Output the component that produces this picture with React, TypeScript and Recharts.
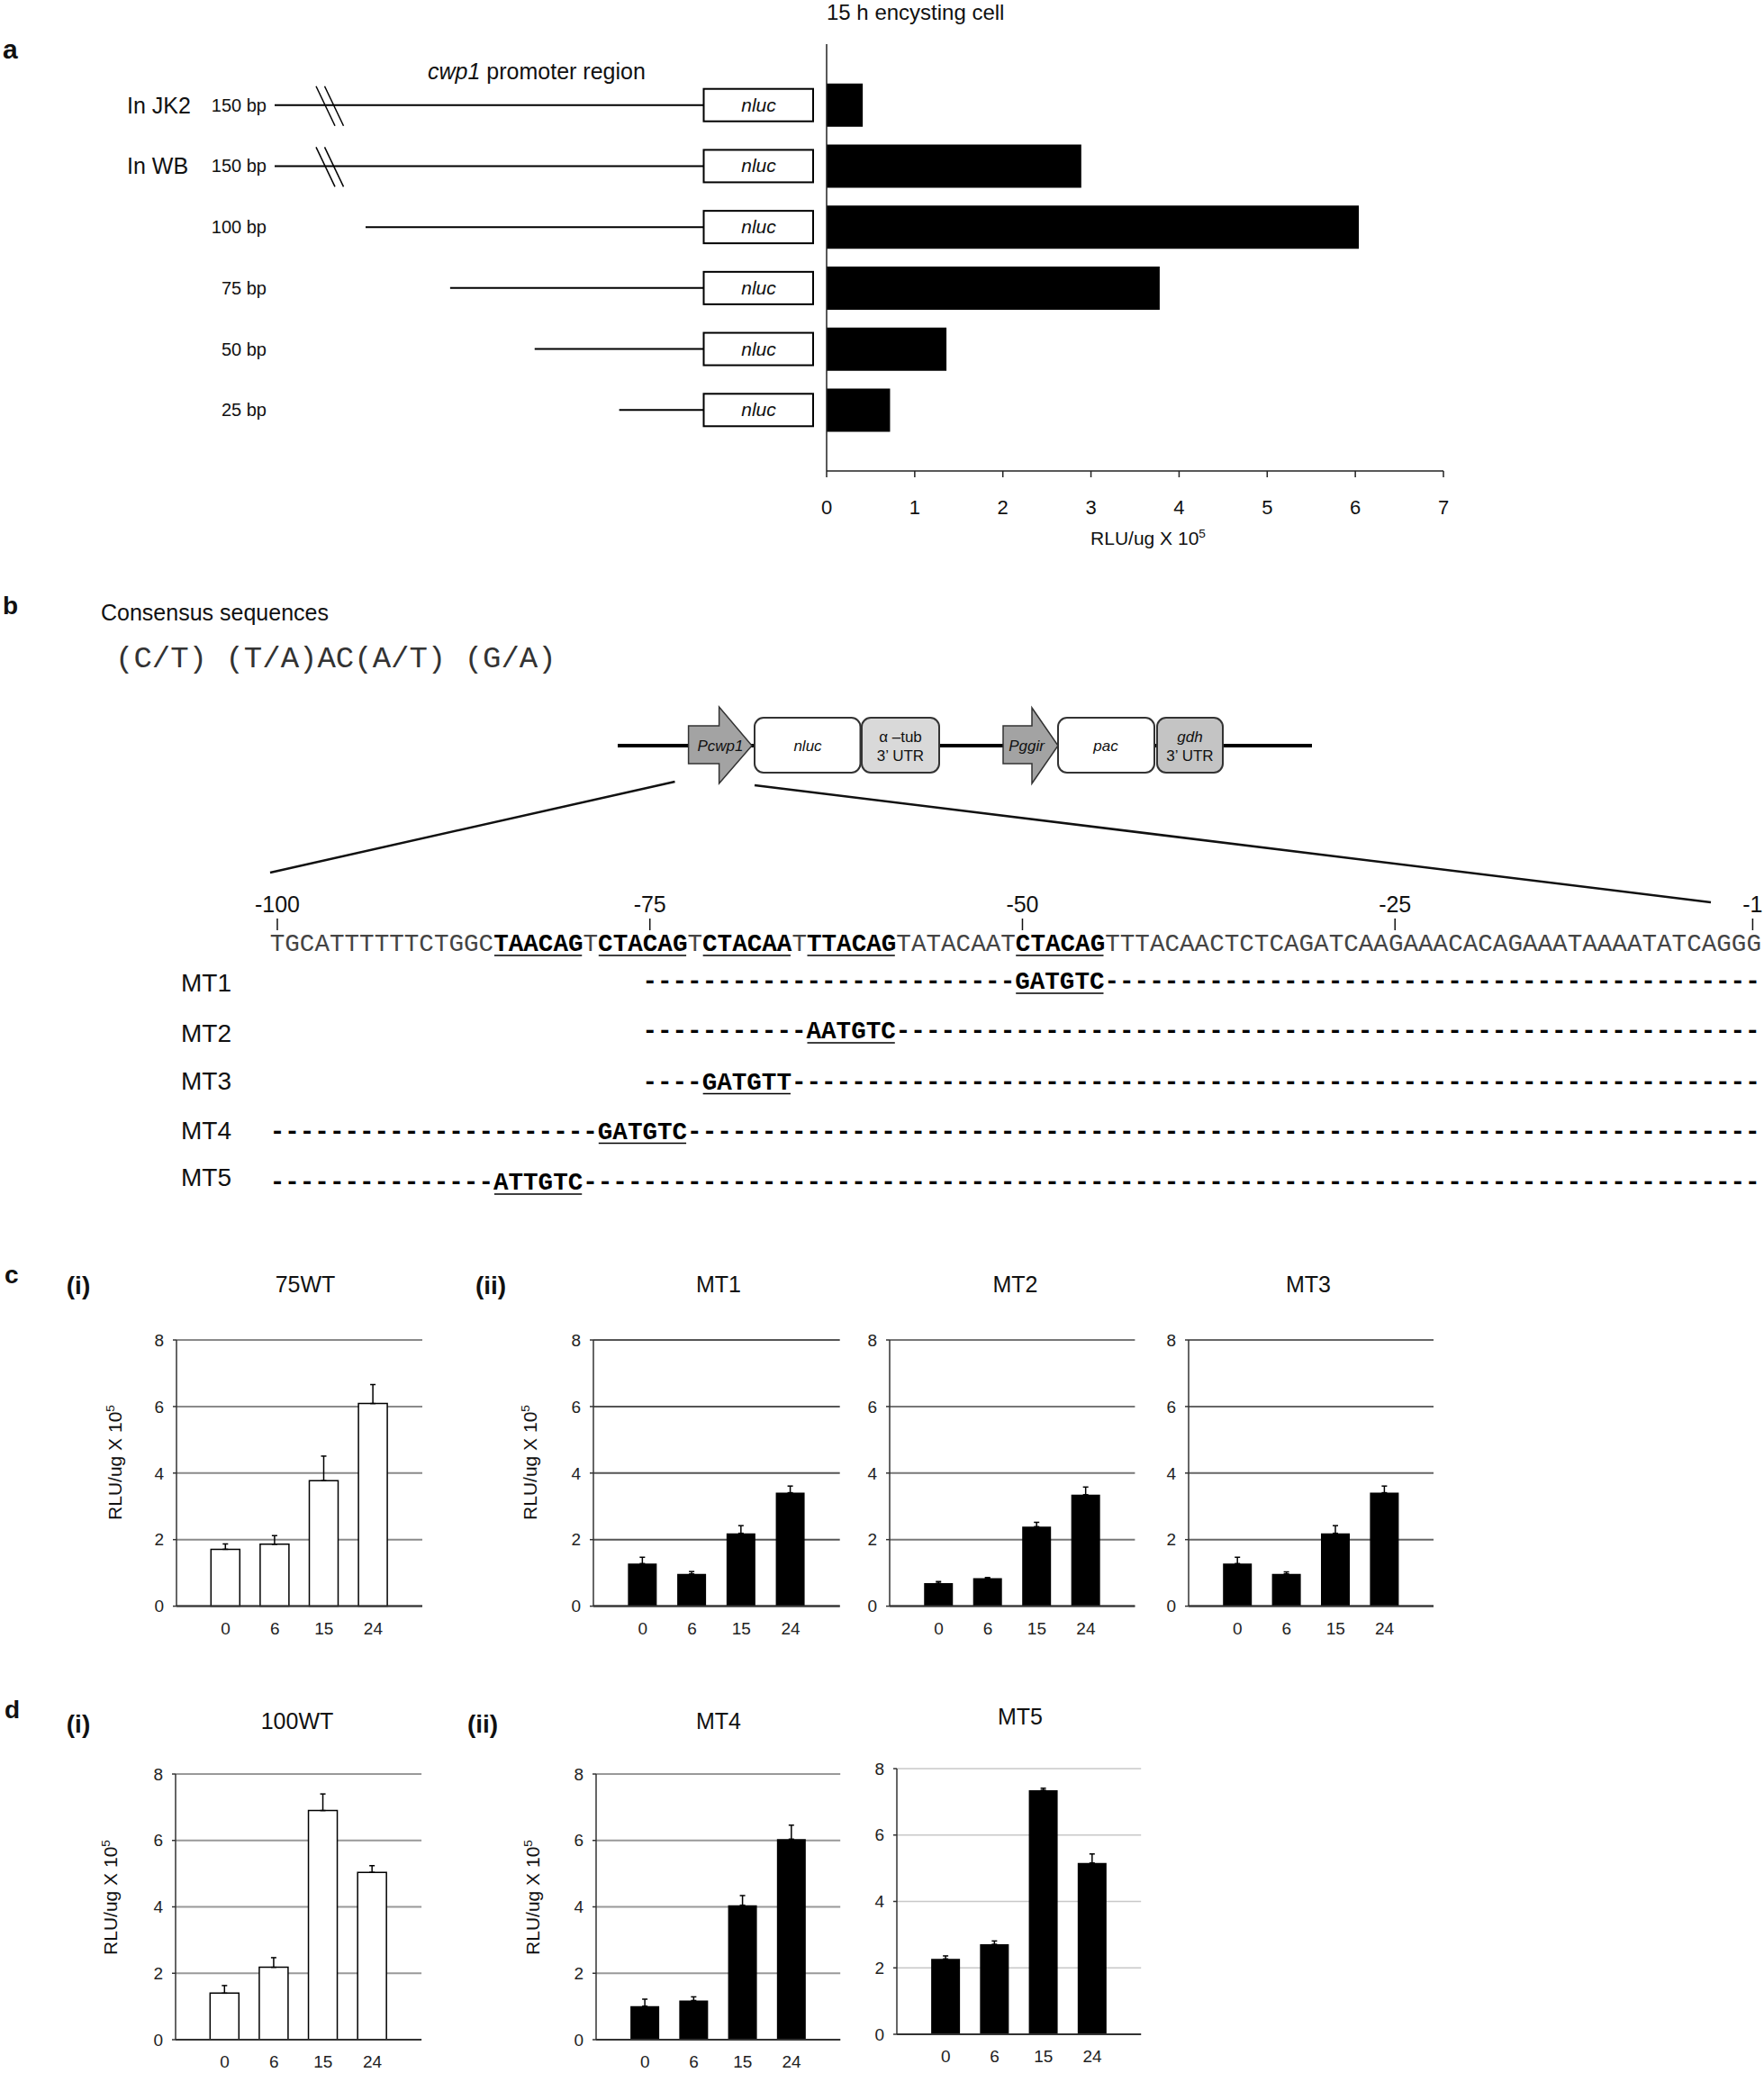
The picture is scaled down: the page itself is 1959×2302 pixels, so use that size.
import React from "react";
import { BarChart, Bar, XAxis, YAxis, CartesianGrid, ErrorBar } from "recharts";

const SANS = "'Liberation Sans', Arial, sans-serif";
const MONO = "'Liberation Mono', 'Courier New', monospace";

// ---- panel a: promoter deletion constructs, 15 h encysting cells ----
const constructNames = ["JK2-150", "WB-150", "100", "75", "50", "25"];
const hostStrains = ["In JK2", "In WB", "", "", "", ""];
const promoterLengths = [150, 150, 100, 75, 50, 25];
const rlu15h = [0.41, 2.89, 6.04, 3.78, 1.36, 0.72];
const rluTicks = [0, 1, 2, 3, 4, 5, 6, 7];

// ---- panel b: promoter sequence and mutants ----
const promoterSeq =
  "TGCATTTTTTCTGGCTAACAGTCTACAGTCTACAATTTACAGTATACAATCTACAGTTTACAACTCTCAGATCAAGAAACACAGAAATAAAATATCAGGG";
const motifStarts = [15, 22, 29, 36, 50];
const positionMarks = [-100, -75, -50, -25, -1];
const mutantNames = ["MT1", "MT2", "MT3", "MT4", "MT5"];
const mutantFrom = [25, 25, 25, 0, 0];
const mutantSites = [50, 36, 29, 22, 15];
const mutantSeqs = ["GATGTC", "AATGTC", "GATGTT", "GATGTC", "ATTGTC"];

// ---- panels c, d: time course (h) ----
const hours = ["0", "6", "15", "24"];
const rluAxisTicks = [0, 2, 4, 6, 8];
const wt75 = [1.71, 1.86, 3.77, 6.09];
const wt75Err = [0.16, 0.26, 0.74, 0.57];
const mt1 = [1.28, 0.97, 2.19, 3.41];
const mt1Err = [0.19, 0.07, 0.23, 0.2];
const mt2 = [0.69, 0.84, 2.39, 3.35];
const mt2Err = [0.05, 0.02, 0.13, 0.23];
const mt3 = [1.28, 0.97, 2.19, 3.41];
const mt3Err = [0.19, 0.06, 0.23, 0.2];
const wt100 = [1.4, 2.18, 6.9, 5.04];
const wt100Err = [0.23, 0.29, 0.5, 0.2];
const mt4 = [1.01, 1.18, 4.05, 6.04];
const mt4Err = [0.21, 0.11, 0.29, 0.42];
const mt5 = [2.27, 2.71, 7.35, 5.16];
const mt5Err = [0.09, 0.1, 0.06, 0.27];

// construct diagram drawn as the y-axis tick of panel a
const BOX_X = 781.5;
const PX_PER_BP = 3.755;

function ConstructTick(props: any) {
  const { y, payload } = props;
  const i = constructNames.indexOf(payload.value);
  const bp = promoterLengths[i];
  const broken = bp > 100;
  const startX = broken ? 305 : BOX_X - bp * PX_PER_BP;
  return (
    <g fontFamily={SANS}>
      {hostStrains[i] && (
        <text x={141} y={y + 9} fontSize={25} fill="#111">
          {hostStrains[i]}
        </text>
      )}
      <text x={296} y={y + 7} fontSize={20} textAnchor="end" fill="#111">
        {bp} bp
      </text>
      <line x1={startX} x2={BOX_X} y1={y} y2={y} stroke="#000" strokeWidth={2} />
      {broken && (
        <g stroke="#000" strokeWidth={1.5}>
          <line x1={351} y1={y - 21} x2={372} y2={y + 23} />
          <line x1={360.5} y1={y - 21} x2={381.5} y2={y + 23} />
        </g>
      )}
      <rect x={BOX_X} y={y - 18} width={121.5} height={36} fill="#fff" stroke="#000" strokeWidth={2} />
      <text x={BOX_X + 61} y={y + 7} fontSize={21} fontStyle="italic" textAnchor="middle" fill="#111">
        nluc
      </text>
    </g>
  );
}

function PanelA() {
  const data = constructNames.map((name, i) => ({ name, v: rlu15h[i] }));
  return (
    <div style={{ position: "absolute", left: 0, top: 0 }}>
      <BarChart
        layout="vertical"
        width={1650}
        height={620}
        data={data}
        margin={{ top: 49, right: 47, left: 0, bottom: 0 }}
      >
        <XAxis
          type="number"
          domain={[0, 7]}
          ticks={rluTicks}
          interval={0}
          height={97}
          tickSize={7}
          tickMargin={25}
          axisLine={{ stroke: "#222", strokeWidth: 1.5 }}
          tickLine={{ stroke: "#222", strokeWidth: 1.5 }}
          tick={{ fontSize: 22, fill: "#111", fontFamily: SANS }}
        />
        <YAxis
          type="category"
          dataKey="name"
          width={918}
          interval={0}
          padding={{ top: 33.85, bottom: 33.85 }}
          tickLine={false}
          axisLine={{ stroke: "#222", strokeWidth: 1.5 }}
          tick={<ConstructTick />}
        />
        <Bar dataKey="v" fill="#000" barSize={48} isAnimationActive={false} />
      </BarChart>
    </div>
  );
}

interface TimeProps {
  values: number[];
  errors: number[];
  left: number;
  top: number;
  width: number;
  height: number;
  fill: string;
  grid: string;
  gridWidth?: number;
}

function TimeCourse({ values, errors, left, top, width, height, fill, grid, gridWidth = 2 }: TimeProps) {
  const data = hours.map((h, i) => ({ h, v: values[i], e: [0, errors[i]] }));
  const ml = 50;
  const mt = 12;
  const mr = 12;
  const xh = 40;
  const hollow = fill === "#fff";
  return (
    <div style={{ position: "absolute", left: left - ml, top: top - mt }}>
      <BarChart
        width={width + ml + mr}
        height={height + mt + xh}
        data={data}
        margin={{ top: mt, right: mr, left: 0, bottom: 0 }}
      >
        <CartesianGrid vertical={false} stroke={grid} strokeWidth={gridWidth} />
        <XAxis
          dataKey="h"
          height={xh}
          interval={0}
          padding={{ left: width / 10, right: width / 10 }}
          tickLine={false}
          tickSize={0}
          tickMargin={18}
          axisLine={{ stroke: "#333", strokeWidth: 2 }}
          tick={{ fontSize: 19, fill: "#222", fontFamily: SANS }}
        />
        <YAxis
          width={ml}
          domain={[0, 8]}
          ticks={rluAxisTicks}
          interval={0}
          tickSize={4}
          tickMargin={10}
          axisLine={{ stroke: "#333", strokeWidth: 1.5 }}
          tickLine={{ stroke: "#333", strokeWidth: 1.5 }}
          tick={{ fontSize: 19, fill: "#222", fontFamily: SANS }}
        />
        <Bar
          dataKey="v"
          fill={fill}
          stroke={hollow ? "#000" : "none"}
          strokeWidth={hollow ? 1.5 : 0}
          barSize={32}
          isAnimationActive={false}
        >
          <ErrorBar dataKey="e" width={3} stroke="#000" strokeWidth={1.5} isAnimationActive={false} />
        </Bar>
      </BarChart>
    </div>
  );
}

function RluLabel({ x, y, size, rotate }: { x: number; y: number; size: number; rotate?: boolean }) {
  const t = rotate ? `translate(${x + 7},${y}) rotate(-90)` : `translate(${x},${y})`;
  return (
    <text transform={t} x={0} y={0} textAnchor="middle" fontSize={size} fill="#111" fontFamily={SANS}>
      RLU/ug X 10
      <tspan dy={-size * 0.4} fontSize={size * 0.65}>
        5
      </tspan>
    </text>
  );
}

// panel b geometry: one character cell of the sequence
const SEQ_X = 299.7;
const CHAR_W = 16.55;
const SEQ_FONT = CHAR_W / 0.6;
const cellX = (i: number) => SEQ_X + i * CHAR_W;

function SequencePanel() {
  const rowBase = [1098, 1153, 1209.5, 1264.5, 1321];
  const labelBase = [1101, 1156.5, 1210, 1265, 1316.7];
  return (
    <g>
      {positionMarks.map((p) => {
        const cx = cellX(p + 100) + CHAR_W / 2;
        return (
          <g key={p}>
            <text x={cx} y={1013} fontSize={25} textAnchor="middle" fontFamily={SANS} fill="#111">
              {p}
            </text>
            <line x1={cx} x2={cx} y1={1020} y2={1033} stroke="#111" strokeWidth={1.5} />
          </g>
        );
      })}
      <text x={SEQ_X} y={1056} fontSize={SEQ_FONT} fontFamily={MONO} fill="#444">
        {promoterSeq.split("").map((ch, i) => {
          const bold = motifStarts.some((s) => i >= s && i < s + 6);
          return (
            <tspan key={i} fontWeight={bold ? "bold" : "normal"} fill={bold ? "#000" : "#444"}>
              {ch}
            </tspan>
          );
        })}
      </text>
      {motifStarts.map((s) => (
        <line key={s} x1={cellX(s) + 1} x2={cellX(s + 6) - 1} y1={1061} y2={1061} stroke="#000" strokeWidth={1.5} />
      ))}
      {mutantNames.map((name, r) => {
        const from = mutantFrom[r];
        const site = mutantSites[r];
        const pre = "-".repeat(site - from);
        const post = "-".repeat(promoterSeq.length - site - 6);
        return (
          <g key={name}>
            <text x={201} y={labelBase[r]} fontSize={28} fontFamily={SANS} fill="#111">
              {name}
            </text>
            <text x={cellX(from)} y={rowBase[r]} fontSize={SEQ_FONT} fontFamily={MONO} fontWeight="bold" fill="#000">
              {pre}
              {mutantSeqs[r]}
              {post}
            </text>
            <line
              x1={cellX(site) + 1}
              x2={cellX(site + 6) - 1}
              y1={rowBase[r] + 5}
              y2={rowBase[r] + 5}
              stroke="#000"
              strokeWidth={1.5}
            />
          </g>
        );
      })}
    </g>
  );
}

function PlasmidMap() {
  const y = 828;
  return (
    <g fontFamily={SANS} fill="#111">
      <line x1={686} x2={1457} y1={y} y2={y} stroke="#000" strokeWidth={4} />
      <polygon
        points="764.6,806 798.6,806 798.6,785 835,828 798.6,870 798.6,848 764.6,848"
        fill="#a3a3a3"
        stroke="#333"
        strokeWidth={1.5}
      />
      <rect x={838} y={797} width={117.5} height={61} rx={10} fill="#fff" stroke="#333" strokeWidth={2} />
      <rect x={957} y={797} width={86} height={61} rx={10} fill="#d9d9d9" stroke="#333" strokeWidth={2} />
      <polygon
        points="1114,806 1146,806 1146,786 1175,828 1146,870 1146,848 1114,848"
        fill="#a3a3a3"
        stroke="#333"
        strokeWidth={1.5}
      />
      <rect x={1175} y={797} width={107} height={61} rx={10} fill="#fff" stroke="#333" strokeWidth={2} />
      <rect x={1285} y={797} width={73} height={61} rx={10} fill="#c4c4c4" stroke="#333" strokeWidth={2} />
      <text x={800} y={834} fontSize={17} fontStyle="italic" textAnchor="middle">Pcwp1</text>
      <text x={897} y={834} fontSize={17} fontStyle="italic" textAnchor="middle">nluc</text>
      <text x={1000} y={824} fontSize={17} textAnchor="middle">α –tub</text>
      <text x={1000} y={845} fontSize={17} textAnchor="middle">3’ UTR</text>
      <text x={1140} y={834} fontSize={17} fontStyle="italic" textAnchor="middle">Pggir</text>
      <text x={1228} y={834} fontSize={17} fontStyle="italic" textAnchor="middle">pac</text>
      <text x={1321.5} y={824} fontSize={17} fontStyle="italic" textAnchor="middle">gdh</text>
      <text x={1321.5} y={845} fontSize={17} textAnchor="middle">3’ UTR</text>
      <line x1={749.5} y1={868} x2={300} y2={969} stroke="#111" strokeWidth={2.5} />
      <line x1={838} y1={872} x2={1900} y2={1002} stroke="#111" strokeWidth={2.5} />
    </g>
  );
}

export default function App() {
  const bold = { fontFamily: SANS, fontWeight: "bold" as const, fill: "#111" };
  const plain = { fontFamily: SANS, fill: "#111" };
  return (
    <div style={{ position: "relative", width: 1959, height: 2302, background: "#fff", overflow: "hidden" }}>
      <style>{"body{margin:0}"}</style>
      <PanelA />
      <TimeCourse values={wt75} errors={wt75Err} left={196} top={1487.7} width={273} height={295.6} fill="#fff" grid="#8a8a8a" />
      <TimeCourse values={mt1} errors={mt1Err} left={659} top={1487.7} width={273.7} height={295.6} fill="#000" grid="#555" />
      <TimeCourse values={mt2} errors={mt2Err} left={988.3} top={1487.7} width={272.4} height={295.6} fill="#000" grid="#777" />
      <TimeCourse values={mt3} errors={mt3Err} left={1320} top={1487.7} width={272} height={295.6} fill="#000" grid="#666" />
      <TimeCourse values={wt100} errors={wt100Err} left={194.6} top={1970} width={273.1} height={295} fill="#fff" grid="#999" />
      <TimeCourse values={mt4} errors={mt4Err} left={661.6} top={1970} width={271.2} height={295} fill="#000" grid="#999" />
      <TimeCourse values={mt5} errors={mt5Err} left={996} top={1964.3} width={271.2} height={295} fill="#000" grid="#c8c8c8" gridWidth={1.5} />
      <svg width={1959} height={2302} style={{ position: "absolute", left: 0, top: 0, pointerEvents: "none" }}>
        {/* panel a */}
        <text x={3} y={65} fontSize={30} {...bold}>a</text>
        <text x={918} y={22} fontSize={24} {...plain}>15 h encysting cell</text>
        <text x={475} y={88} fontSize={25} {...plain}>
          <tspan fontStyle="italic">cwp1</tspan> promoter region
        </text>
        <RluLabel x={1275} y={605} size={21} />

        {/* panel b */}
        <text x={3} y={682} fontSize={28} {...bold}>b</text>
        <text x={112} y={689} fontSize={25} {...plain}>Consensus sequences</text>
        <text x={128} y={741} fontSize={34} fontFamily={MONO} fill="#333">(C/T) (T/A)AC(A/T) (G/A)</text>
        <PlasmidMap />
        <SequencePanel />

        {/* panel c */}
        <text x={5} y={1425} fontSize={28} {...bold}>c</text>
        <text x={87} y={1437} fontSize={28} textAnchor="middle" {...bold}>(i)</text>
        <text x={339} y={1435} fontSize={25} textAnchor="middle" {...plain}>75WT</text>
        <text x={545} y={1437} fontSize={28} textAnchor="middle" {...bold}>(ii)</text>
        <text x={798} y={1435} fontSize={25} textAnchor="middle" {...plain}>MT1</text>
        <text x={1127.5} y={1435} fontSize={25} textAnchor="middle" {...plain}>MT2</text>
        <text x={1453} y={1435} fontSize={25} textAnchor="middle" {...plain}>MT3</text>
        <RluLabel x={128} y={1624} size={21} rotate />
        <RluLabel x={589} y={1624} size={21} rotate />

        {/* panel d */}
        <text x={5} y={1908} fontSize={28} {...bold}>d</text>
        <text x={87} y={1924} fontSize={28} textAnchor="middle" {...bold}>(i)</text>
        <text x={330} y={1920} fontSize={25} textAnchor="middle" {...plain}>100WT</text>
        <text x={536} y={1924} fontSize={28} textAnchor="middle" {...bold}>(ii)</text>
        <text x={798} y={1920} fontSize={25} textAnchor="middle" {...plain}>MT4</text>
        <text x={1133} y={1915} fontSize={25} textAnchor="middle" {...plain}>MT5</text>
        <RluLabel x={123} y={2107} size={21} rotate />
        <RluLabel x={592} y={2107} size={21} rotate />
      </svg>
    </div>
  );
}
